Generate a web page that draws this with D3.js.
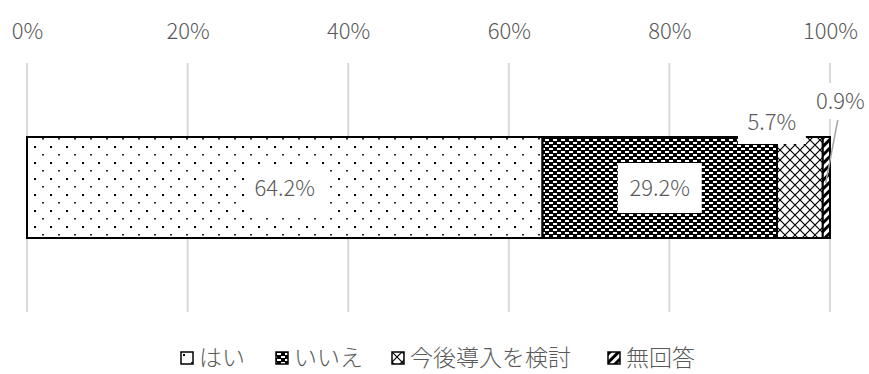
<!DOCTYPE html>
<html>
<head>
<meta charset="utf-8">
<script src="https://cdn.jsdelivr.net/npm/d3@7"></script>
<style>
  body { margin: 0; background: #fff; }
  text { font-family: "Noto Sans CJK JP", "Noto Sans", sans-serif; fill: #595959; font-weight: 300; }
</style>
</head>
<body>
<div id="vis"></div>
<script>
const categories = ["はい", "いいえ", "今後導入を検討", "無回答"];
const values = [64.2, 29.2, 5.7, 0.9];
const tickValues = [0, 20, 40, 60, 80, 100];
const patternIds = ["dots", "bricks", "cross", "stripes"];

let width = 869;
let height = 374;

var svg = d3.select("#vis")
    .append("svg")
    .attr("width", width)
    .attr("height", height);

// patterns, roughly like the excel fills
var defs = svg.append("defs");

var p1 = defs.append("pattern").attr("id", "dots")
    .attr("patternUnits", "userSpaceOnUse").attr("width", 16).attr("height", 16);
p1.append("rect").attr("width", 16).attr("height", 16).attr("fill", "#fff");
p1.append("rect").attr("x", 2).attr("y", 2).attr("width", 2).attr("height", 2).attr("fill", "#000");
p1.append("rect").attr("x", 10).attr("y", 10).attr("width", 2).attr("height", 1.5).attr("fill", "#222");

var p2 = defs.append("pattern").attr("id", "bricks")
    .attr("patternUnits", "userSpaceOnUse").attr("width", 8).attr("height", 6);
p2.append("rect").attr("width", 8).attr("height", 6).attr("fill", "#000");
p2.append("rect").attr("x", 1).attr("y", 1).attr("width", 4).attr("height", 2).attr("fill", "#fff");
p2.append("rect").attr("x", 5).attr("y", 4).attr("width", 4).attr("height", 2).attr("fill", "#fff");
p2.append("rect").attr("x", -3).attr("y", 4).attr("width", 4).attr("height", 2).attr("fill", "#fff");

var p3 = defs.append("pattern").attr("id", "cross")
    .attr("patternUnits", "userSpaceOnUse").attr("width", 10).attr("height", 10);
p3.append("rect").attr("width", 10).attr("height", 10).attr("fill", "#fff");
p3.append("path").attr("d", "M0,0L10,10M10,0L0,10").attr("stroke", "#000").attr("stroke-width", 1.2);

var p4 = defs.append("pattern").attr("id", "stripes")
    .attr("patternUnits", "userSpaceOnUse").attr("width", 6).attr("height", 6)
    .attr("patternTransform", "rotate(45)");
p4.append("rect").attr("width", 6).attr("height", 6).attr("fill", "#fff");
p4.append("rect").attr("width", 3).attr("height", 6).attr("fill", "#000");

var x = d3.scaleLinear().domain([0, 100]).range([27, 830]);

// grid lines
svg.append("g")
    .selectAll("line")
    .data(tickValues)
    .enter().append("line")
    .attr("x1", d => x(d)).attr("x2", d => x(d))
    .attr("y1", 63).attr("y2", 312)
    .attr("stroke", "#d9d9d9")
    .attr("stroke-width", 2);

// tick labels on top
var axis = svg.append("g")
    .attr("transform", "translate(0,53)")
    .call(d3.axisTop(x).tickValues(tickValues).tickSize(0).tickPadding(14).tickFormat(d => d + "%"));
axis.select(".domain").remove();
axis.selectAll("text")
    .attr("font-size", 22)
    .attr("fill", "#595959")
    .style("font-family", "'Noto Sans CJK JP', sans-serif")
    .style("font-weight", 300);

// stacked segments
var segs = [];
var acc = 0;
values.forEach(function (v, i) {
    segs.push({ name: categories[i], value: v, x0: acc, x1: acc + v, pat: patternIds[i] });
    acc += v;
});

var barY = 137, barH = 101;

svg.append("g")
    .selectAll("rect")
    .data(segs)
    .enter().append("rect")
    .attr("x", d => x(d.x0))
    .attr("width", d => x(d.x1) - x(d.x0))
    .attr("y", barY)
    .attr("height", barH)
    .attr("fill", d => "url(#" + d.pat + ")")
    .attr("stroke", "#000")
    .attr("stroke-width", 2);

// data labels: [dx, cy, box w, box h]
var labelPos = [[0, 188, 80, 48], [0, 188, 84, 50], [-28, 122, 68, 44], [14, 101, 60, 36]];

// leader line for the small one
svg.append("line")
    .attr("x1", x(segs[3].x0) + 15).attr("y1", 120)
    .attr("x2", x(segs[3].x0) + 3).attr("y2", 183)
    .attr("stroke", "#a6a6a6").attr("stroke-width", 1.5);

var lab = svg.append("g")
    .selectAll("g")
    .data(segs)
    .enter().append("g")
    .attr("transform", (d, i) => "translate(" + ((x(d.x0) + x(d.x1)) / 2 + labelPos[i][0]) + "," + labelPos[i][1] + ")");

lab.append("rect")
    .attr("x", (d, i) => -labelPos[i][2] / 2)
    .attr("y", (d, i) => -labelPos[i][3] / 2)
    .attr("width", (d, i) => labelPos[i][2])
    .attr("height", (d, i) => labelPos[i][3])
    .attr("fill", "#fff");

lab.append("text")
    .attr("text-anchor", "middle")
    .attr("dy", "0.35em")
    .attr("font-size", 22)
    .text(d => d.value.toFixed(1) + "%");

// legend
var legendX = [181, 276, 392, 608];
var leg = svg.append("g")
    .selectAll("g")
    .data(segs)
    .enter().append("g")
    .attr("transform", (d, i) => "translate(" + legendX[i] + ",352)");

leg.append("rect")
    .attr("width", 12).attr("height", 12)
    .attr("fill", d => "url(#" + d.pat + ")")
    .attr("stroke", "#000")
    .attr("stroke-width", 1.5);

leg.append("text")
    .attr("x", 18)
    .attr("y", 6)
    .attr("dy", "0.35em")
    .attr("font-size", 23)
    .text(d => d.name);
</script>
</body>
</html>
